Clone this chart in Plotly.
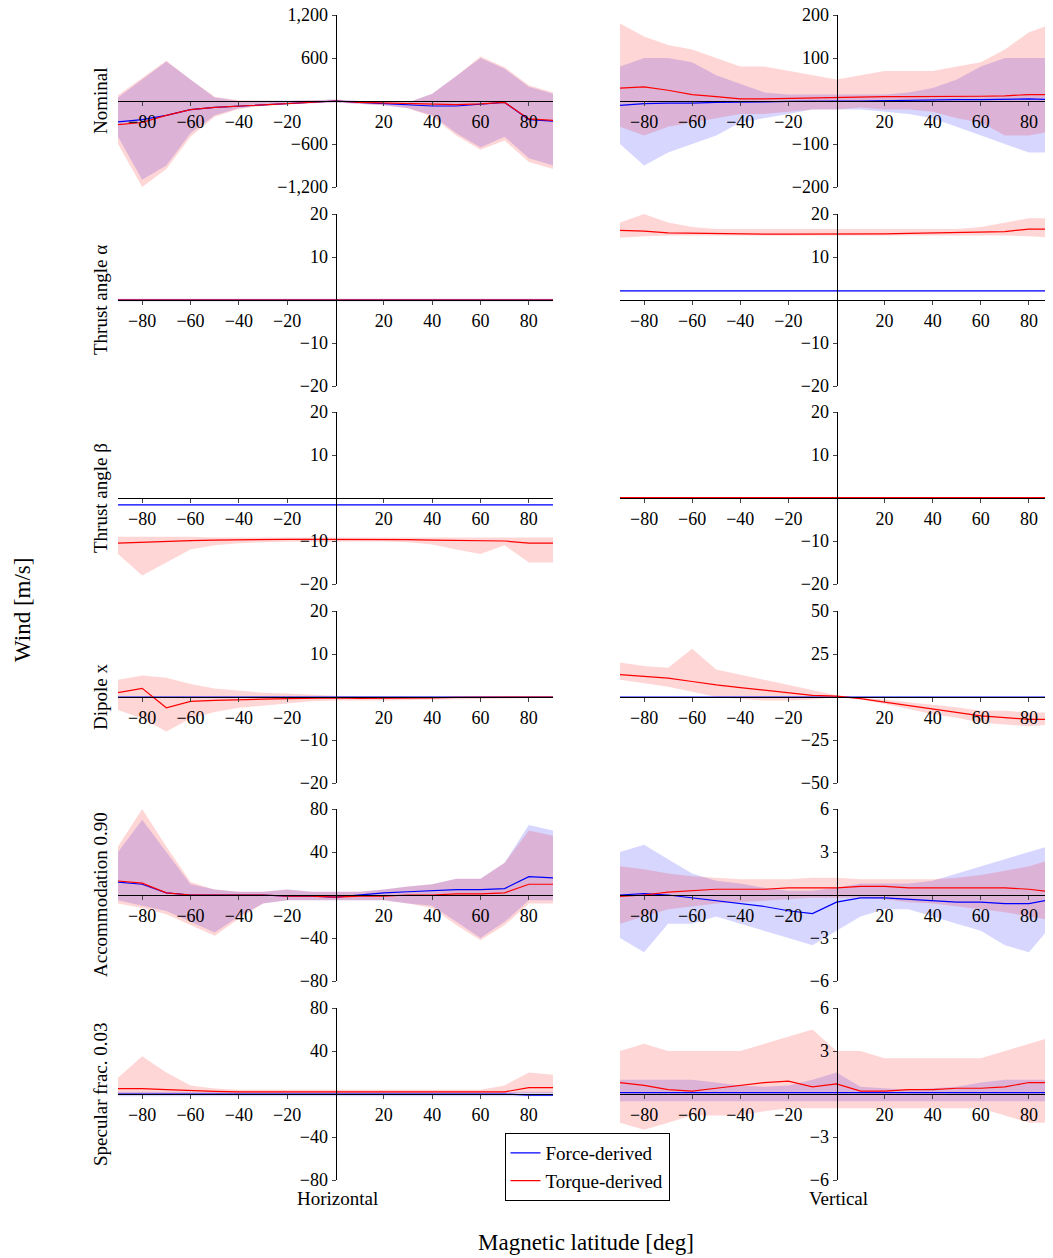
import plotly.graph_objects as go

# magnetic latitude grid [deg]
LAT = [-90, -80, -70, -60, -50, -40, -30, -20, -10, 0, 10, 20, 30, 40, 50, 60, 70, 80, 90]

row_names = ["Nominal", "Thrust angle α", "Thrust angle β", "Dipole x",
             "Accommodation 0.90", "Specular frac. 0.03"]

# --- Nominal ---
nom_h_f = [-290, -260, -200, -120, -90, -70, -50, -30, -10, 0, -20, -40, -60, -70, -70, -50, -20, -260, -280]
nom_h_f_lo = [-500, -1100, -900, -450, -200, -100, -60, -40, -30, -20, -40, -60, -100, -200, -450, -650, -500, -800, -900]
nom_h_f_hi = [50, 300, 550, 300, 50, 0, 0, 0, 10, 20, 0, -20, -20, 100, 350, 600, 450, 200, 100]
nom_h_t = [-330, -300, -200, -120, -90, -70, -50, -30, -10, 0, -20, -30, -40, -50, -50, -40, -20, -250, -270]
nom_h_t_lo = [-600, -1200, -950, -500, -220, -110, -70, -50, -30, -20, -40, -60, -100, -220, -480, -680, -550, -850, -950]
nom_h_t_hi = [80, 320, 560, 300, 60, 10, 0, 0, 10, 20, 0, -20, -20, 100, 350, 620, 470, 220, 120]
nom_v_f = [-10, -6, -5, -5, -3, -3, -2, -1, 0, 0, 0, 1, 2, 2, 3, 3, 4, 5, 3]
nom_v_f_lo = [-100, -150, -120, -100, -80, -50, -40, -30, -20, -20, -20, -25, -30, -40, -60, -80, -100, -120, -120]
nom_v_f_hi = [80, 100, 100, 90, 60, 40, 20, 15, 15, 15, 15, 15, 20, 30, 50, 80, 100, 100, 100]
nom_v_t = [30, 33, 25, 15, 10, 5, 5, 6, 7, 8, 10, 10, 10, 10, 10, 11, 12, 15, 15]
nom_v_t_lo = [-60, -80, -60, -50, -40, -30, -30, -25, -20, -20, -15, -20, -20, -25, -40, -50, -80, -80, -70]
nom_v_t_hi = [180, 150, 130, 120, 100, 80, 80, 70, 60, 50, 60, 70, 70, 70, 80, 90, 120, 160, 180]

# --- Thrust angle alpha ---
ta_h_f = [0] * 19
ta_h_f_lo = [-0.3] * 19
ta_h_f_hi = [0.3] * 19
ta_h_t = [0] * 19
ta_h_t_lo = [-0.3] * 19
ta_h_t_hi = [0.3] * 19
ta_v_f = [2.1] * 19
ta_v_f_lo = [2.0] * 19
ta_v_f_hi = [2.2] * 19
ta_v_t = [16.2, 16, 15.6, 15.5, 15.4, 15.4, 15.3, 15.3, 15.3, 15.3, 15.3, 15.4, 15.5, 15.6, 15.7, 15.8, 15.9, 16.5, 16.5]
ta_v_t_lo = [14.5, 14.8, 15, 15, 15, 15, 15, 15, 15, 15, 15, 15, 15, 15, 15, 15, 15, 14.8, 14.5]
ta_v_t_hi = [18, 20, 18, 17, 16.5, 16.5, 16.5, 16.5, 16.5, 16.5, 16.5, 16.5, 16.5, 16.5, 16.5, 17, 18, 19, 19]

# --- Thrust angle beta ---
tb_h_f = [-1.6] * 19
tb_h_f_lo = [-1.7] * 19
tb_h_f_hi = [-1.5] * 19
tb_h_t = [-10.5, -10.3, -10, -9.9, -9.8, -9.7, -9.6, -9.6, -9.6, -9.6, -9.6, -9.6, -9.7, -9.8, -9.9, -10, -10, -10.5, -10.5]
tb_h_t_lo = [-13, -18, -15, -12, -11, -10.5, -10.3, -10.2, -10.1, -10.1, -10.1, -10.1, -10.3, -10.8, -12, -13, -11, -15, -15]
tb_h_t_hi = [-9] * 4 + [-9.2] * 15
tb_v_f = [0.1] * 19
tb_v_f_lo = [0] * 19
tb_v_f_hi = [0.2] * 19
tb_v_t = [0.1] * 19
tb_v_t_lo = [0] * 19
tb_v_t_hi = [0.2] * 19

# --- Dipole x ---
dx_h_f = [0] * 19
dx_h_f_lo = [0] * 19
dx_h_f_hi = [0] * 19
dx_h_t = [1, 2, -2.5, -1, -0.8, -0.6, -0.5, -0.4, -0.3, -0.2, -0.3, -0.3, -0.2, -0.2, -0.1, -0.1, 0, 0, 0]
dx_h_t_lo = [-3, -5, -8, -5, -3.5, -2.5, -2, -1.5, -1, -0.8, -0.8, -0.8, -0.7, -0.6, -0.5, -0.4, -0.3, -0.3, -0.2]
dx_h_t_hi = [4, 5, 4.5, 3, 2, 1.5, 1, 0.8, 0.5, 0.3, 0.2, 0.2, 0.2, 0.2, 0.2, 0.2, 0.2, 0.3, 0.2]
dx_v_f = [0] * 19
dx_v_f_lo = [0] * 19
dx_v_f_hi = [0] * 19
dx_v_t = [13, 12, 11, 9, 7, 5.5, 4, 2.5, 1, 0.5, -1, -3, -5, -7, -9, -11, -12, -13, -13]
dx_v_t_lo = [10, 8, 6, 3, 0, -1, -2, -2, -1.5, 0, -1.5, -4, -7, -10, -12, -15, -16, -17, -16]
dx_v_t_hi = [20, 18, 17, 28, 16, 13, 10, 7, 4, 1, -0.5, -1.5, -3, -4.5, -6, -8, -8, -9, -9]

# --- Accommodation 0.90 ---
ac_h_f = [12, 10, 2, 0, 0, 0, 0, -1, -1, -2, 0, 2, 3, 4, 5, 5, 6, 17, 16]
ac_h_f_lo = [-5, -10, -15, -25, -35, -20, -8, -5, -5, -5, -5, -5, -8, -10, -25, -40, -25, -5, -5]
ac_h_f_hi = [40, 70, 40, 10, 5, 3, 3, 5, 3, 3, 3, 5, 8, 10, 15, 15, 30, 65, 60]
ac_h_t = [13, 11, 2, 0, 0, 0, 0, -1, -1, -2, -1, -1, 0, 0, 1, 1, 2, 10, 10]
ac_h_t_lo = [-8, -12, -18, -28, -38, -22, -8, -5, -5, -5, -5, -5, -8, -12, -28, -42, -28, -8, -8]
ac_h_t_hi = [45, 80, 45, 12, 5, 3, 3, 5, 3, 3, 3, 5, 8, 10, 15, 15, 30, 60, 55]
ac_v_f = [0, 0.1, 0, -0.2, -0.4, -0.6, -0.8, -1.1, -1.3, -0.5, -0.2, -0.2, -0.3, -0.4, -0.5, -0.5, -0.6, -0.6, -0.3]
ac_v_f_lo = [-3, -4, -2, -2, -1.5, -2, -2.5, -3, -3.5, -2.5, -1.5, -1, -1, -1.5, -2, -2.5, -3.5, -4, -2]
ac_v_f_hi = [3, 3.5, 2.5, 1.5, 1, 0.8, 0.5, 0.3, 0.3, 0.5, 0.8, 0.8, 0.8, 1, 1.5, 2, 2.5, 3, 3.5]
ac_v_t = [-0.1, 0, 0.2, 0.3, 0.4, 0.4, 0.4, 0.5, 0.5, 0.5, 0.6, 0.6, 0.5, 0.5, 0.5, 0.5, 0.5, 0.4, 0.2]
ac_v_t_lo = [-2, -1.5, -1, -0.8, -0.6, -0.5, -0.4, -0.3, -0.2, -0.2, -0.2, -0.3, -0.5, -0.6, -0.8, -1, -1.2, -1.5, -1.8]
ac_v_t_hi = [2, 1.8, 1.5, 1.3, 1.2, 1.1, 1.1, 1.1, 1.2, 1.2, 1.1, 1.1, 1.1, 1.1, 1.2, 1.4, 1.7, 2, 2.5]

# --- Specular fraction 0.03 ---
sp_h_f = [0] * 17 + [-1, -1]
sp_h_f_lo = [-2] * 19
sp_h_f_hi = [2] * 19
sp_h_t = [5, 5, 4, 3, 2.5, 2, 2, 2, 2, 2, 2, 2, 2, 2, 2, 2, 2, 6, 6]
sp_h_t_lo = [0, 0, 0, 0, 0, 0.5, 0.5, 0.5, 0.5, 0.5, 0.5, 0.5, 0.5, 0.5, 0.5, 0.5, 0.5, 1, 1]
sp_h_t_hi = [15, 35, 20, 8, 5, 4, 4, 4, 4, 4, 4, 4, 4, 4, 4, 4, 8, 20, 18]
sp_v_f = [0.1] * 19
sp_v_f_lo = [-0.5] * 19
sp_v_f_hi = [1, 1, 1, 1, 0.8, 0.6, 0.5, 0.6, 1, 1.5, 0.5, 0.4, 0.3, 0.4, 0.5, 0.8, 1, 1, 1]
sp_v_t = [0.8, 0.6, 0.3, 0.2, 0.4, 0.6, 0.8, 0.9, 0.5, 0.7, 0.2, 0.2, 0.3, 0.3, 0.4, 0.4, 0.5, 0.8, 0.8]
sp_v_t_lo = [-2, -2.5, -2, -1.5, -1.5, -1.5, -1.2, -1, -1, -1, -1, -1, -1, -1, -1, -1, -1.5, -2, -2]
sp_v_t_hi = [3, 3.5, 3, 3, 3, 3, 3.5, 4, 4.5, 3, 3, 2.5, 2.5, 2.5, 2.5, 2.5, 3, 3.5, 4]

panels = [
    [(nom_h_f, nom_h_f_lo, nom_h_f_hi, nom_h_t, nom_h_t_lo, nom_h_t_hi),
     (nom_v_f, nom_v_f_lo, nom_v_f_hi, nom_v_t, nom_v_t_lo, nom_v_t_hi)],
    [(ta_h_f, ta_h_f_lo, ta_h_f_hi, ta_h_t, ta_h_t_lo, ta_h_t_hi),
     (ta_v_f, ta_v_f_lo, ta_v_f_hi, ta_v_t, ta_v_t_lo, ta_v_t_hi)],
    [(tb_h_f, tb_h_f_lo, tb_h_f_hi, tb_h_t, tb_h_t_lo, tb_h_t_hi),
     (tb_v_f, tb_v_f_lo, tb_v_f_hi, tb_v_t, tb_v_t_lo, tb_v_t_hi)],
    [(dx_h_f, dx_h_f_lo, dx_h_f_hi, dx_h_t, dx_h_t_lo, dx_h_t_hi),
     (dx_v_f, dx_v_f_lo, dx_v_f_hi, dx_v_t, dx_v_t_lo, dx_v_t_hi)],
    [(ac_h_f, ac_h_f_lo, ac_h_f_hi, ac_h_t, ac_h_t_lo, ac_h_t_hi),
     (ac_v_f, ac_v_f_lo, ac_v_f_hi, ac_v_t, ac_v_t_lo, ac_v_t_hi)],
    [(sp_h_f, sp_h_f_lo, sp_h_f_hi, sp_h_t, sp_h_t_lo, sp_h_t_hi),
     (sp_v_f, sp_v_f_lo, sp_v_f_hi, sp_v_t, sp_v_t_lo, sp_v_t_hi)],
]

# y limits per row (left, right)
ylims = [(1200, 200), (20, 20), (20, 20), (20, 50), (80, 6), (80, 6)]
yticks = [([-1200, -600, 600, 1200], [-200, -100, 100, 200]),
          ([-20, -10, 10, 20], [-20, -10, 10, 20]),
          ([-20, -10, 10, 20], [-20, -10, 10, 20]),
          ([-20, -10, 10, 20], [-50, -25, 25, 50]),
          ([-80, -40, 40, 80], [-6, -3, 3, 6]),
          ([-80, -40, 40, 80], [-6, -3, 3, 6])]
xticks = [-80, -60, -40, -20, 20, 40, 60, 80]

# page body has an 8px margin, so the figure is 8px smaller than the window
OFF = 8
W, H = 1053 - OFF, 1258 - OFF
FONT = "Liberation Serif"


def px(x):
    return (x - OFF) / W


def py(y):
    return 1 - (y - OFF) / H


col_px = [(118, 553), (620, 1053)]
row_top = [15, 214, 412, 611, 809, 1008]
row_h = 172

fig = go.Figure()
layout = {}
n = 0
for r in range(6):
    for c in range(2):
        n += 1
        sfx = "" if n == 1 else str(n)
        xa, ya = "x" + sfx, "y" + sfx
        f, flo, fhi, t, tlo, thi = panels[r][c]
        for lo, hi, fill in [(flo, fhi, "rgba(0,0,255,0.16)"), (tlo, thi, "rgba(255,0,0,0.16)")]:
            fig.add_trace(go.Scatter(x=LAT + LAT[::-1], y=hi + lo[::-1], fill="toself",
                                     fillcolor=fill, line=dict(width=0), mode="lines",
                                     showlegend=False, hoverinfo="skip", xaxis=xa, yaxis=ya))
        for mean, col, name in [(f, "blue", "Force-derived"), (t, "red", "Torque-derived")]:
            fig.add_trace(go.Scatter(x=LAT, y=mean, mode="lines", line=dict(color=col, width=1.2),
                                     name=name, showlegend=(n == 1), xaxis=xa, yaxis=ya))
        x0, x1 = px(col_px[c][0]), min(px(col_px[c][1]), 1.0)
        y1 = py(row_top[r])
        y0 = py(row_top[r] + row_h)
        lim = ylims[r][c]
        layout["xaxis" + sfx] = dict(domain=[x0, x1], range=[-90, 90], anchor="free",
                                     position=(y0 + y1) / 2, tickvals=xticks, ticks="outside",
                                     ticklen=4, showline=True, linecolor="black", linewidth=1,
                                     showgrid=False, zeroline=False, automargin=False,
                                     ticklabeloverflow="allow",
                                     tickfont=dict(family=FONT, size=18, color="black"))
        layout["yaxis" + sfx] = dict(domain=[y0, y1], range=[-lim, lim], anchor="free",
                                     position=(x0 + x1) / 2, tickvals=yticks[r][c], ticks="outside",
                                     ticklen=4, tickformat=",", showline=True, linecolor="black",
                                     linewidth=1, showgrid=False, zeroline=False, automargin=False,
                                     ticklabeloverflow="allow",
                                     tickfont=dict(family=FONT, size=18, color="black"))

ann = []
for r in range(6):
    ann.append(dict(text=row_names[r], x=px(100), y=py(row_top[r] + row_h / 2),
                    xref="paper", yref="paper", xanchor="center", yanchor="middle",
                    textangle=-90, showarrow=False, font=dict(family=FONT, size=19)))
ann.append(dict(text="Wind [m/s]", x=px(22), y=py(610), xref="paper", yref="paper",
                xanchor="center", yanchor="middle",
                textangle=-90, showarrow=False, font=dict(family=FONT, size=23)))
ann.append(dict(text="Magnetic latitude [deg]", x=px(586), y=py(1242), xref="paper",
                yref="paper", xanchor="center", yanchor="middle",
                showarrow=False, font=dict(family=FONT, size=23)))
ann.append(dict(text="Horizontal", x=px(337), y=py(1198), xref="paper", yref="paper",
                xanchor="center", yanchor="middle",
                showarrow=False, font=dict(family=FONT, size=19)))
ann.append(dict(text="Vertical", x=px(838), y=py(1198), xref="paper", yref="paper",
                xanchor="center", yanchor="middle",
                showarrow=False, font=dict(family=FONT, size=19)))

fig.update_layout(**layout)
fig.update_layout(width=W, height=H, margin=dict(l=0, r=0, t=0, b=0, autoexpand=False),
                  plot_bgcolor="white", paper_bgcolor="white",
                  font=dict(family=FONT, size=18, color="black"),
                  annotations=ann,
                  legend=dict(x=px(587), y=py(1133), xanchor="center", yanchor="top",
                              bordercolor="black", borderwidth=1, bgcolor="white",
                              font=dict(family=FONT, size=19)))
fig.write_html("out.html")
